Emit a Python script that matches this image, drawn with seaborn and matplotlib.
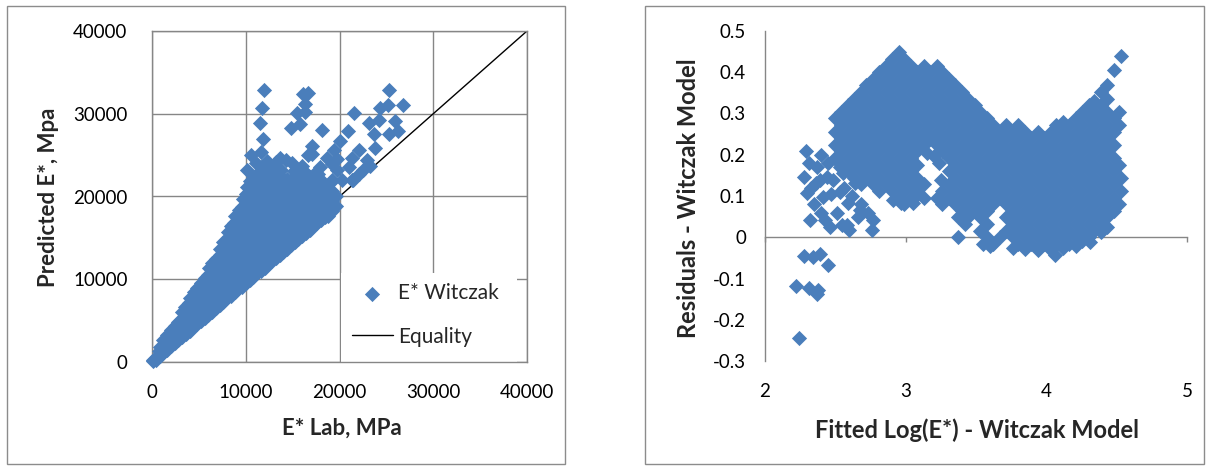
import matplotlib
matplotlib.use("Agg")
import matplotlib.pyplot as plt
from matplotlib.patches import Rectangle
from matplotlib.ticker import FuncFormatter
import pandas as pd
import seaborn as sns

# ---------------- data ----------------
# Left chart: E* Lab (MPa) vs Predicted E* (MPa)
lab_core = [
    (150, 100), (300, 350), (100, 300), (450, 200), (500, 600),
    (800, 700), (750, 1300), (900, 1800),
    (1200, 1100), (1250, 2000), (1150, 2700),
    (1600, 1500), (1650, 2500), (1550, 3300),
    (2000, 1900), (2050, 2900), (2000, 3900),
    (2400, 2300), (2350, 3300), (2450, 4400),
    (2800, 2650), (2800, 3700), (2750, 4800),
    (3200, 3000), (3200, 4100), (3250, 5200), (3150, 6000),
    (3600, 3400), (3650, 4500), (3600, 5600), (3550, 6600),
    (4000, 3800), (4000, 4900), (4050, 6000), (3950, 7100), (4100, 7700),
    (4400, 4200), (4400, 5300), (4450, 6400), (4350, 7500), (4500, 8400),
    (4800, 4600), (4850, 5700), (4800, 6800), (4750, 7900), (4850, 8900),
    (5200, 4900), (5200, 6100), (5250, 7300), (5150, 8500), (5200, 9500),
    (5600, 5300), (5600, 6500), (5650, 7700), (5550, 8900), (5600, 10100),
    (6000, 5700), (6050, 6900), (6000, 8100), (5950, 9300), (6000, 10500), (6050, 11300),
    (6400, 6100), (6400, 7300), (6450, 8500), (6350, 9700), (6400, 10900), (6450, 12000),
    (6800, 6500), (6850, 7700), (6800, 8900), (6750, 10100), (6800, 11300), (6850, 12500),
    (7200, 6900), (7200, 8100), (7250, 9300), (7150, 10500), (7200, 11700), (7250, 12900), (7200, 13600),
    (7600, 7300), (7650, 8500), (7600, 9700), (7550, 10900), (7600, 12100), (7650, 13300), (7600, 14500),
    (8000, 7700), (8000, 8900), (8050, 10100), (7950, 11300), (8000, 12500), (8050, 13700), (8000, 14900), (8100, 15700),
    (8400, 8000), (8450, 9200), (8400, 10400), (8350, 11600), (8400, 12800), (8450, 14000), (8400, 15200), (8450, 16400),
    (8800, 8400), (8800, 9600), (8850, 10800), (8750, 12000), (8800, 13200), (8850, 14400), (8800, 15600), (8750, 16800), (8900, 17700),
    (9200, 8800), (9250, 10000), (9200, 11200), (9150, 12400), (9200, 13600), (9250, 14800), (9200, 16000), (9150, 17200), (9250, 18400),
    (9600, 9100), (9600, 10300), (9650, 11500), (9550, 12700), (9600, 13900), (9650, 15100), (9600, 16300), (9550, 17500), (9600, 18700), (9700, 19700),
    (10000, 9500), (10050, 10700), (10000, 11900), (9950, 13100), (10000, 14300), (10050, 15500), (10000, 16700), (9950, 17900), (10000, 19100), (10050, 20300), (10100, 21100),
    (10400, 9900), (10400, 11100), (10450, 12300), (10350, 13500), (10400, 14700), (10450, 15900), (10400, 17100), (10350, 18300), (10400, 19500), (10450, 20700), (10400, 21900),
    (10800, 10300), (10850, 11500), (10800, 12700), (10750, 13900), (10800, 15100), (10850, 16300), (10800, 17500), (10750, 18700), (10800, 19900), (10850, 21100), (10800, 22200),
    (11200, 10700), (11200, 11900), (11250, 13100), (11150, 14300), (11200, 15500), (11250, 16700), (11200, 17900), (11150, 19100), (11200, 20300), (11250, 21500), (11200, 22700),
    (11600, 11000), (11650, 12200), (11600, 13400), (11550, 14600), (11600, 15800), (11650, 17000), (11600, 18200), (11550, 19400), (11600, 20600), (11650, 21800), (11600, 23000),
    (12000, 11400), (12000, 12600), (12050, 13800), (11950, 15000), (12000, 16200), (12050, 17400), (12000, 18600), (11950, 19800), (12000, 21000), (12050, 22200),
    (12400, 11800), (12450, 13000), (12400, 14200), (12350, 15400), (12400, 16600), (12450, 17800), (12400, 19000), (12350, 20200), (12400, 21400), (12450, 22600),
    (12800, 12200), (12800, 13400), (12850, 14600), (12750, 15800), (12800, 17000), (12850, 18200), (12800, 19400), (12750, 20600), (12800, 21800), (12850, 23000),
    (13200, 12600), (13250, 13800), (13200, 15000), (13150, 16200), (13200, 17400), (13250, 18600), (13200, 19800), (13150, 21000), (13200, 22200),
    (13600, 12900), (13600, 14100), (13650, 15300), (13550, 16500), (13600, 17700), (13650, 18900), (13600, 20100), (13550, 21300), (13600, 22500),
    (14000, 13300), (14050, 14500), (14000, 15700), (13950, 16900), (14000, 18100), (14050, 19300), (14000, 20500), (13950, 21700),
    (14400, 13700), (14400, 14900), (14450, 16100), (14350, 17300), (14400, 18500), (14450, 19700), (14400, 20900), (14350, 22100),
    (14800, 14100), (14850, 15300), (14800, 16500), (14750, 17700), (14800, 18900), (14850, 20100), (14800, 21300),
    (15200, 14500), (15200, 15700), (15250, 16900), (15150, 18100), (15200, 19300), (15250, 20500), (15200, 21700), (15150, 23100),
    (15600, 14900), (15650, 16100), (15600, 17300), (15550, 18500), (15600, 19700), (15650, 20900), (15600, 22300),
    (16000, 15200), (16000, 16400), (16050, 17600), (15950, 18800), (16000, 20000), (16050, 21200), (16000, 22400),
    (16400, 15600), (16450, 16800), (16400, 18000), (16350, 19200), (16400, 20400), (16450, 21600), (16400, 22800),
    (16800, 16000), (16800, 17200), (16850, 18400), (16750, 19600), (16800, 21100), (16850, 22300),
    (17200, 16400), (17250, 17600), (17200, 18800), (17150, 20000), (17200, 21200), (17250, 22700),
    (17600, 16800), (17600, 18000), (17650, 19200), (17550, 20400), (17600, 21600),
    (18000, 17200), (18050, 18400), (18000, 19600), (17950, 20800), (18000, 22000),
    (18400, 17600), (18400, 18800), (18450, 20000), (18350, 21200),
    (18800, 17600), (18850, 18400), (18800, 19500), (18750, 20700),
    (19200, 18300), (19200, 19500), (19250, 20700), (19150, 21900),
    (19600, 18800), (19650, 20000),
]
lab_upper = [
    (11980, 32820), (11730, 30730), (11510, 28910), (11870, 26980), (10610, 24960),
    (11620, 25370), (10180, 23230), (16120, 32420), (16660, 32500), (16300, 31210),
    (15470, 30120), (16300, 30200), (14860, 28310), (15760, 28710), (18170, 28070),
    (17090, 26050), (16660, 24960), (14320, 24440), (13240, 24160), (21520, 30080),
    (20910, 27900), (20080, 26700), (19360, 25650), (18640, 24680), (17920, 23550),
    (25300, 32820), (24290, 30690), (25120, 31010), (26810, 31010), (23140, 28870),
    (24220, 29190), (25950, 29110), (23680, 27580), (25230, 27500), (26200, 27900),
    (23790, 25890), (22060, 25570), (22960, 24360), (21340, 24680), (20980, 23550),
    (22060, 22740), (21340, 21940), (19720, 23150), (19180, 21940), (20260, 21940),
    (18640, 17910), (18640, 19120), (17740, 19520), (17020, 21130), (16300, 22340),
    (17740, 22740), (17020, 25160), (15580, 23150), (14860, 21940), (13780, 23150),
    (12700, 23150), (11980, 23550), (10900, 21940), (12340, 21540), (10540, 20730),
    (13420, 20730), (15580, 20330), (16660, 19120), (19180, 23950), (19720, 24560),
    (21470, 22000), (22500, 23200), (23300, 23700), (18460, 17500),
    (12300, 24300), (14900, 24000), (16000, 23700), (13700, 24700), (11100, 24100),
]
equality_x = [0, 40000]
equality_y = [0, 40000]

# Right chart: fitted log(E*) vs residuals
resid_tail = [
    (2.24, -0.245), (2.22, -0.118), (2.31, -0.122), (2.38, -0.128), (2.37, -0.138),
    (2.28, -0.045), (2.34, -0.047), (2.39, -0.040), (2.45, -0.068),
    (2.29, 0.210), (2.28, 0.147), (2.30, 0.107), (2.32, 0.042), (2.40, 0.199),
    (2.37, 0.171), (2.44, 0.147), (2.36, 0.131), (2.415, 0.098), (2.47, 0.106),
    (2.43, 0.042), (2.51, 0.058), (2.46, 0.026), (2.545, 0.030), (2.60, 0.017),
    (2.59, 0.082), (2.675, 0.066), (2.77, 0.042), (2.76, 0.017), (2.64, 0.131),
    (2.557, 0.155), (2.533, 0.171), (2.31, 0.180), (2.33, 0.120), (2.39, 0.140),
    (2.45, 0.180), (2.48, 0.140), (2.53, 0.110), (2.56, 0.120), (2.62, 0.100),
    (2.66, 0.050), (2.58, 0.030), (2.40, 0.060), (2.35, 0.080), (2.68, 0.080),
    (2.73, 0.060), (2.91, 0.090), (2.97, 0.082), (3.05, 0.082), (3.08, 0.103),
    (3.13, 0.128), (3.20, 0.196), (3.24, 0.180), (3.15, 0.205), (3.25, 0.140),
]
resid_hump = [
    (2.50, .288), (2.50, .256), (2.50, .224), (2.50, .192),
    (2.54, .304), (2.54, .272), (2.54, .240), (2.54, .208), (2.54, .176),
    (2.59, .320), (2.59, .288), (2.59, .256), (2.59, .224), (2.59, .192), (2.59, .160),
    (2.63, .336), (2.63, .304), (2.63, .272), (2.63, .240), (2.63, .208), (2.63, .176), (2.63, .144),
    (2.68, .352), (2.68, .320), (2.68, .288), (2.68, .256), (2.68, .224), (2.68, .192), (2.68, .160), (2.68, .128),
    (2.72, .368), (2.72, .336), (2.72, .304), (2.72, .272), (2.72, .240), (2.72, .208), (2.72, .176), (2.72, .144),
    (2.77, .384), (2.77, .352), (2.77, .320), (2.77, .288), (2.77, .256), (2.77, .224), (2.77, .192), (2.77, .160), (2.77, .128),
    (2.81, .400), (2.81, .368), (2.81, .336), (2.81, .304), (2.81, .272), (2.81, .240), (2.81, .208), (2.81, .176), (2.81, .144), (2.81, .112),
    (2.86, .416), (2.86, .384), (2.86, .352), (2.86, .320), (2.86, .288), (2.86, .256), (2.86, .224), (2.86, .192), (2.86, .160), (2.86, .128),
    (2.90, .432), (2.90, .400), (2.90, .368), (2.90, .336), (2.90, .304), (2.90, .272), (2.90, .240), (2.90, .208), (2.90, .176), (2.90, .144), (2.90, .112),
    (2.95, .448), (2.95, .416), (2.95, .384), (2.95, .352), (2.95, .320), (2.95, .288), (2.95, .256), (2.95, .224), (2.95, .192), (2.95, .160), (2.95, .128), (2.95, .096),
    (2.99, .432), (2.99, .400), (2.99, .368), (2.99, .336), (2.99, .304), (2.99, .272), (2.99, .240), (2.99, .208), (2.99, .176), (2.99, .144), (2.99, .112), (2.99, .080),
    (3.04, .416), (3.04, .384), (3.04, .352), (3.04, .320), (3.04, .288), (3.04, .256), (3.04, .224), (3.04, .192), (3.04, .160), (3.04, .128), (3.04, .096),
    (3.08, .400), (3.08, .368), (3.08, .336), (3.08, .304), (3.08, .272), (3.08, .240), (3.08, .208), (3.08, .176), (3.08, .144), (3.08, .112),
    (3.13, .416), (3.13, .384), (3.13, .352), (3.13, .320), (3.13, .288), (3.13, .256), (3.13, .224), (3.13, .096),
    (3.17, .400), (3.17, .368), (3.17, .336), (3.17, .304), (3.17, .272), (3.17, .240),
    (3.22, .416), (3.22, .384), (3.22, .352), (3.22, .320), (3.22, .288), (3.22, .256), (3.22, .224), (3.22, .096),
    (3.26, .400), (3.26, .368), (3.26, .336), (3.26, .304), (3.26, .272), (3.26, .240), (3.26, .208), (3.26, .112), (3.26, .080),
    (3.31, .384), (3.31, .352), (3.31, .320), (3.31, .288), (3.31, .256), (3.31, .224), (3.31, .192), (3.31, .160), (3.31, .128), (3.31, .096),
    (3.35, .368), (3.35, .336), (3.35, .304), (3.35, .272), (3.35, .240), (3.35, .208), (3.35, .176), (3.35, .144), (3.35, .112), (3.35, .080), (3.37, .048), (3.37, .000),
    (3.40, .352), (3.40, .320), (3.40, .288), (3.40, .256), (3.40, .224), (3.40, .192), (3.40, .160), (3.40, .128), (3.40, .096), (3.40, .064), (3.42, .032),
    (3.44, .336), (3.44, .304), (3.44, .272), (3.44, .240), (3.44, .208), (3.44, .176), (3.44, .144), (3.44, .112), (3.44, .080), (3.44, .048),
    (3.49, .320), (3.49, .288), (3.49, .256), (3.49, .224), (3.49, .192), (3.49, .160), (3.49, .128), (3.49, .096), (3.49, .064),
]
resid_trough = [
    (3.53, .304), (3.53, .272), (3.53, .240), (3.53, .208), (3.53, .176), (3.53, .144), (3.53, .112), (3.53, .080), (3.53, .048), (3.53, .016), (3.55, -.016),
    (3.58, .288), (3.58, .256), (3.58, .224), (3.58, .192), (3.58, .160), (3.58, .128), (3.58, .096), (3.58, .064), (3.58, .032), (3.58, .000), (3.60, -.022),
    (3.62, .272), (3.62, .240), (3.62, .208), (3.62, .176), (3.62, .144), (3.62, .112), (3.62, .080), (3.62, -.016),
    (3.67, .256), (3.67, .224), (3.67, .192), (3.67, .160), (3.67, .128), (3.67, .096), (3.67, .000),
    (3.71, .272), (3.71, .240), (3.71, .208), (3.71, .176), (3.71, .144), (3.71, .112), (3.71, .080), (3.71, .048), (3.71, .016),
    (3.76, .256), (3.76, .224), (3.76, .192), (3.76, .160), (3.76, .128), (3.76, .096), (3.76, .064), (3.76, .032), (3.76, .000), (3.76, -.025),
    (3.80, .272), (3.80, .240), (3.80, .208), (3.80, .176), (3.80, .144), (3.80, .112), (3.80, .080), (3.80, .048), (3.80, .016), (3.80, -.016),
    (3.85, .256), (3.85, .224), (3.85, .192), (3.85, .160), (3.85, .128), (3.85, .096), (3.85, .064), (3.85, .032), (3.85, .000), (3.85, -.028),
    (3.89, .240), (3.89, .208), (3.89, .176), (3.89, .144), (3.89, .112), (3.89, .080), (3.89, .048), (3.89, .016), (3.89, -.016),
    (3.94, .256), (3.94, .224), (3.94, .192), (3.94, .160), (3.94, .128), (3.94, .096), (3.94, .064), (3.94, .032), (3.94, .000), (3.94, -.030),
    (3.98, .240), (3.98, .208), (3.98, .176), (3.98, .144), (3.98, .112), (3.98, .080), (3.98, .048), (3.98, .016), (3.98, -.016),
    (4.03, .256), (4.03, .224), (4.03, .192), (4.03, .160), (4.03, .128), (4.03, .096), (4.03, .064), (4.03, .032), (4.03, .000), (4.03, -.032),
    (4.07, .272), (4.07, .240), (4.07, .208), (4.07, .176), (4.07, .144), (4.07, .112), (4.07, .080), (4.07, .048), (4.07, .016), (4.07, -.016), (4.06, -.042),
    (4.12, .280), (4.12, .256), (4.12, .224), (4.12, .192), (4.12, .160), (4.12, .128), (4.12, .096), (4.12, .064), (4.12, .032), (4.12, .000), (4.12, -.025),
    (4.16, .272), (4.16, .240), (4.16, .208), (4.16, .176), (4.16, .144), (4.16, .112), (4.16, .080), (4.16, .048), (4.16, .016), (4.16, -.016),
    (4.21, .288), (4.21, .256), (4.21, .224), (4.21, .192), (4.21, .160), (4.21, .128), (4.21, .096), (4.21, .064), (4.21, .032), (4.21, .000), (4.21, -.020),
    (4.25, .304), (4.25, .272), (4.25, .240), (4.25, .208), (4.25, .176), (4.25, .144), (4.25, .112), (4.25, .080), (4.25, .048), (4.25, .016), (4.25, -.010),
    (4.30, .320), (4.30, .288), (4.30, .256), (4.30, .224), (4.30, .192), (4.30, .160), (4.30, .128), (4.30, .096), (4.30, .064), (4.30, .032), (4.30, .000), (4.31, -.012),
    (4.34, .330), (4.34, .304), (4.34, .272), (4.34, .240), (4.34, .208), (4.34, .176), (4.34, .144), (4.34, .112), (4.34, .080), (4.34, .048), (4.34, .016),
    (4.39, .352), (4.39, .320), (4.39, .288), (4.39, .256), (4.39, .224), (4.39, .192), (4.39, .160), (4.39, .128), (4.39, .096), (4.39, .064), (4.39, .032), (4.39, .012),
    (4.43, .368), (4.43, .336), (4.43, .304), (4.43, .272), (4.43, .240), (4.43, .208), (4.43, .176), (4.43, .144), (4.43, .112), (4.43, .080), (4.43, .048), (4.43, .025),
    (4.48, .405), (4.48, .288), (4.48, .256), (4.48, .224), (4.48, .192), (4.48, .160), (4.48, .128), (4.48, .096), (4.48, .064),
    (4.53, .440), (4.52, .304), (4.52, .272), (4.52, .176), (4.53, .144), (4.53, .112), (4.52, .080),
]

x_ticks_left = [0, 10000, 20000, 30000, 40000]
y_ticks_right = [-0.3, -0.2, -0.1, 0, 0.1, 0.2, 0.3, 0.4, 0.5]
x_ticks_right = [2, 3, 4, 5]

# ---------------- style ----------------
sns.set_style("white")
plt.rcParams["font.family"] = ["Lato", "DejaVu Sans"]
plt.rcParams["axes.unicode_minus"] = False

BLUE = "#4A7EBB"
GRAY = "#868686"
W, H = 1209, 468
MS = 60

fig = plt.figure(figsize=(W / 100, H / 100), dpi=100)

# chart-area frames
for x0, x1 in [(7, 565), (645, 1204)]:
    fig.add_artist(Rectangle((x0 / W, (H - 464) / H), (x1 - x0) / W, 458 / H,
                             transform=fig.transFigure, fill=False,
                             edgecolor="#8C8C8C", linewidth=1.0))

# ---------------- left chart ----------------
ax1 = fig.add_axes([152 / W, (H - 362) / H, 375 / W, 331 / H])
df_lab = pd.DataFrame(lab_core + lab_upper, columns=["lab", "pred"])
sns.lineplot(x=equality_x, y=equality_y, ax=ax1, color="black", linewidth=1.0,
             label="Equality", zorder=2)
sns.scatterplot(data=df_lab, x="lab", y="pred", ax=ax1, marker="D", s=MS,
                color=BLUE, linewidth=0, label="E* Witczak", zorder=3, clip_on=False)
ax1.set_xlim(0, 40000)
ax1.set_ylim(0, 40000)
ax1.set_xticks(x_ticks_left)
ax1.set_yticks(x_ticks_left)
ax1.xaxis.set_major_formatter(FuncFormatter(lambda v, _: f"{v:.0f}"))
ax1.yaxis.set_major_formatter(FuncFormatter(lambda v, _: f"{v:.0f}"))
ax1.grid(True, color=GRAY, linewidth=1.0)
ax1.set_axisbelow(True)
for sp in ax1.spines.values():
    sp.set_color(GRAY)
    sp.set_linewidth(1.0)
ax1.tick_params(axis="both", direction="out", length=3.6, width=1.0, color=GRAY,
                labelsize=13.5, labelcolor="black")
ax1.tick_params(axis="y", pad=14)
ax1.tick_params(axis="x", pad=12)
ax1.set_xlabel("E* Lab, MPa", fontsize=16, fontweight="bold")
ax1.set_ylabel("Predicted E*, Mpa", fontsize=16, fontweight="bold")
ax1.xaxis.set_label_coords(0.507, -0.199)
ax1.yaxis.set_label_coords(-0.277, 0.498)
ax1.xaxis.label.set_va("center")
ax1.yaxis.label.set_va("center")

# white legend area
ax1.add_patch(Rectangle((0.503, 0.0), 0.47, 0.269, transform=ax1.transAxes,
                        facecolor="white", edgecolor="none", zorder=1))
handles, labels = ax1.get_legend_handles_labels()
order = [labels.index("E* Witczak"), labels.index("Equality")]
ax1.legend([handles[i] for i in order], [labels[i] for i in order],
           loc="upper left", bbox_to_anchor=(0.533, 0.238), frameon=False,
           fontsize=15, handlelength=1.97, handletextpad=0.25, labelspacing=1.12,
           borderpad=0, borderaxespad=0)

# ---------------- right chart ----------------
ax2 = fig.add_axes([765 / W, (H - 361) / H, 422 / W, 330 / H])
df_res = pd.DataFrame(resid_tail + resid_hump + resid_trough, columns=["fitted", "resid"])
sns.scatterplot(data=df_res, x="fitted", y="resid", ax=ax2, marker="D", s=MS,
                color=BLUE, linewidth=0, zorder=3, clip_on=False, legend=False)
ax2.set_xlim(2, 5)
ax2.set_ylim(-0.3, 0.5)
ax2.set_xticks(x_ticks_right)
ax2.set_yticks(y_ticks_right)


def _fmt(v, _):
    s = f"{v:.1f}"
    return "0" if s in ("0.0", "-0.0") else s


ax2.yaxis.set_major_formatter(FuncFormatter(_fmt))
ax2.xaxis.set_major_formatter(FuncFormatter(lambda v, _: f"{v:g}"))
ax2.grid(False)
ax2.spines["right"].set_visible(False)
ax2.spines["bottom"].set_visible(False)
ax2.spines["top"].set_position(("data", 0))
for sp in ("left", "top"):
    ax2.spines[sp].set_color(GRAY)
    ax2.spines[sp].set_linewidth(1.0)
ax2.tick_params(axis="y", direction="out", length=3.6, width=1.0, color=GRAY,
                labelsize=13.5, labelcolor="black", pad=10)
ax2.tick_params(axis="x", direction="in", length=3.6, width=1.0, color=GRAY,
                top=True, bottom=False, labeltop=False, labelbottom=True,
                labelsize=13.5, labelcolor="black", pad=16)
ax2.set_xlabel("Fitted Log(E*) - Witczak Model", fontsize=17, fontweight="bold")
ax2.set_ylabel("Residuals - Witczak Model", fontsize=17, fontweight="bold")
ax2.xaxis.set_label_coords(0.502, -0.209)
ax2.yaxis.set_label_coords(-0.182, 0.494)
ax2.xaxis.label.set_va("center")
ax2.yaxis.label.set_va("center")

fig.savefig("out.png", dpi=100)
